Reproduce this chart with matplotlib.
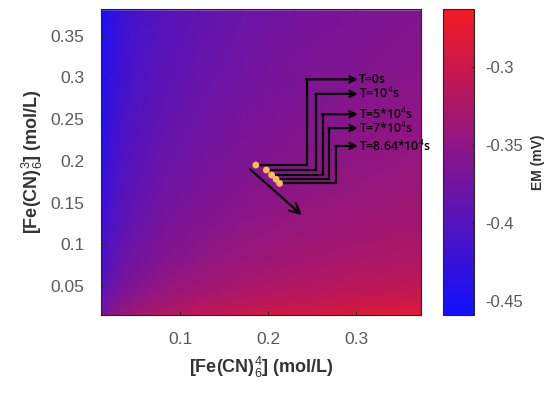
"""
Mapa EM vs concentrações de ferro/ferricianeto com trajetória temporal.
"""
import numpy as np
import matplotlib
matplotlib.use("Agg")
import matplotlib.pyplot as plt
import matplotlib.ticker as ticker
from matplotlib.colors import LinearSegmentedColormap

plt.rcParams["font.family"] = ["Liberation Sans", "DejaVu Sans"]
plt.rcParams["mathtext.fontset"] = "custom"
plt.rcParams["mathtext.rm"] = "Liberation Sans"
plt.rcParams["mathtext.it"] = "Liberation Sans"
plt.rcParams["mathtext.bf"] = "Liberation Sans:bold"

# grade de concentrações (mol/L), mesma para os dois eixos
conc_grid = [0.01, 0.02, 0.03, 0.05, 0.08, 0.12, 0.17, 0.23, 0.30, 0.38]

em_y001 = [-0.360, -0.342, -0.332, -0.319, -0.307, -0.296, -0.287, -0.279, -0.273, -0.266]
em_y002 = [-0.378, -0.360, -0.350, -0.337, -0.324, -0.314, -0.305, -0.297, -0.290, -0.284]
em_y003 = [-0.388, -0.370, -0.360, -0.347, -0.335, -0.324, -0.315, -0.308, -0.301, -0.294]
em_y005 = [-0.401, -0.384, -0.373, -0.360, -0.348, -0.338, -0.329, -0.321, -0.314, -0.308]
em_y008 = [-0.414, -0.396, -0.385, -0.372, -0.360, -0.350, -0.341, -0.333, -0.326, -0.320]
em_y012 = [-0.424, -0.406, -0.396, -0.383, -0.370, -0.360, -0.351, -0.343, -0.336, -0.330]
em_y017 = [-0.433, -0.415, -0.405, -0.392, -0.379, -0.369, -0.360, -0.352, -0.345, -0.339]
em_y023 = [-0.441, -0.423, -0.412, -0.399, -0.387, -0.377, -0.368, -0.360, -0.353, -0.347]
em_y030 = [-0.448, -0.430, -0.419, -0.406, -0.394, -0.384, -0.375, -0.367, -0.360, -0.354]
em_y038 = [-0.453, -0.436, -0.425, -0.412, -0.400, -0.390, -0.381, -0.373, -0.366, -0.360]

# trajetória no tempo
ferro_t = [0.186, 0.198, 0.204, 0.209, 0.213]
ferri_t = [0.195, 0.189, 0.183, 0.178, 0.173]
t_labels = ["T=0s", "T=10$^4$s", "T=5*10$^4$s", "T=7*10$^4$s", "T=8.64*10$^4$s"]

# posições dos rótulos (cotovelo, altura do rótulo, ponta)
elbow_x = [0.244, 0.2545, 0.262, 0.2697, 0.2773]
label_y = [0.2977, 0.2804, 0.2559, 0.2393, 0.2179]
tip_x = 0.302
trend_start = (0.1795, 0.190)
trend_end = (0.2383, 0.135)

EM = np.array([em_y001, em_y002, em_y003, em_y005, em_y008,
               em_y012, em_y017, em_y023, em_y030, em_y038])
GX, GY = np.meshgrid(conc_grid, conc_grid)

cmap = LinearSegmentedColormap.from_list("br", ["#1010ff", "#f41a22"])
VMIN, VMAX = -0.459, -0.263

fig = plt.figure(figsize=(5.55, 3.94), dpi=100)
fig.patch.set_facecolor("white")
ax = fig.add_axes([0.182, 0.2, 0.577, 0.777])
cax = fig.add_axes([0.798, 0.2, 0.056, 0.777])

mesh = ax.pcolormesh(GX, GY, EM, shading="gouraud", cmap=cmap, vmin=VMIN, vmax=VMAX)
ax.set_xlim(0.01, 0.374)
ax.set_ylim(0.015, 0.382)

# linhas de rótulo
for xd, yd, ex, ly, lab in zip(ferro_t, ferri_t, elbow_x, label_y, t_labels):
    ax.plot([xd, ex, ex], [yd, yd, ly], color="black", lw=1.6, zorder=3,
            solid_joinstyle="miter")
    ax.annotate("", xy=(tip_x, ly), xytext=(ex - 0.001, ly),
                arrowprops=dict(arrowstyle="->", color="black", lw=1.6,
                                mutation_scale=11, shrinkA=0, shrinkB=0), zorder=3)
    ax.text(tip_x + 0.001, ly, lab, fontsize=8.8, family=["Open Sans", "DejaVu Sans"],
            fontweight="semibold", va="center", ha="left", color="black",
            clip_on=False, zorder=4)

ax.annotate("", xy=trend_end, xytext=trend_start,
            arrowprops=dict(arrowstyle="->", color="black", lw=1.6,
                            mutation_scale=18, shrinkA=0, shrinkB=0), zorder=3)
ax.scatter(ferro_t, ferri_t, s=24, color="#f9bd55", edgecolors="none", zorder=5)

ax.set_xticks([0.1, 0.2, 0.3])
ax.set_yticks([0.05, 0.1, 0.15, 0.2, 0.25, 0.3, 0.35])
fmt = ticker.FuncFormatter(lambda v, _: f"{v:g}")
ax.xaxis.set_major_formatter(fmt)
ax.yaxis.set_major_formatter(fmt)
ax.tick_params(direction="in", length=3, width=0.6, colors="#262626",
               labelcolor="#5a5a5a", labelsize=12.5, pad=12)
for s in ax.spines.values():
    s.set_color("#262626")
    s.set_linewidth(0.8)

ax.set_xlabel("[Fe(CN)$_6^4$] (mol/L)", fontsize=13, fontweight="bold",
              color="#333333", labelpad=6)
ax.set_ylabel("[Fe(CN)$_6^3$] (mol/L)", fontsize=13, fontweight="bold",
              color="#333333", labelpad=4)

cbar = fig.colorbar(mesh, cax=cax)
cbar.set_ticks([-0.3, -0.35, -0.4, -0.45])
cbar.ax.yaxis.set_major_formatter(fmt)
cbar.ax.tick_params(direction="in", length=2, width=0.6, colors="#262626",
                    labelcolor="#5a5a5a", labelsize=12, pad=8)
cbar.outline.set_edgecolor("#262626")
cbar.outline.set_linewidth(0.8)
cbar.set_label("EM (mV)", fontsize=10, fontweight="bold", color="#333333", labelpad=6)

plt.savefig("out.png", dpi=100, facecolor="white")
